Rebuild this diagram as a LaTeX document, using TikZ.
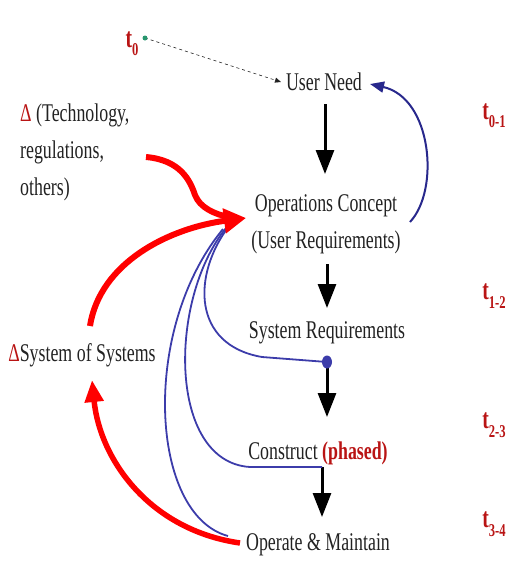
\documentclass[tikz,border=0pt]{standalone}
\usepackage{fontspec}
\setmainfont{Liberation Serif}[FakeStretch=0.7]
\usetikzlibrary{arrows.meta}
\definecolor{ink}{RGB}{34,34,34}
\definecolor{tred}{RGB}{185,20,20}
\definecolor{navy}{RGB}{40,40,140}
\definecolor{bblue}{RGB}{60,60,170}
\definecolor{dgreen}{RGB}{40,150,110}
\tikzset{
  lbl/.style={text=ink, font=\fontsize{25.5}{37}\selectfont, inner sep=0pt},
  tlbl/.style={text=tred, font=\fontsize{28}{30}\selectfont\bfseries, inner sep=0pt},
  blk/.style={draw=black, line width=3pt, -{Triangle[length=24pt,width=18pt]}},
  redarr/.style={draw=red, line width=6pt, -{Triangle[length=22pt,width=24pt]}},
  redarrB/.style={draw=red, line width=5.5pt, -{Triangle[length=22pt,width=18pt]}},
  redline/.style={draw=red, line width=6pt},
  bluel/.style={draw=bblue, line width=1.8pt},
}
\newcommand{\tsub}[1]{t\raisebox{-0.3em}{\fontsize{18}{18}\selectfont #1}}
\begin{document}
\begin{tikzpicture}[x=1pt,y=-1pt]
\useasboundingbox (0,0) rectangle (512,563);
% time labels
\node[tlbl] (t0) at (132,44) {\tsub{0}};
\node[tlbl] (t01) at (494,116) {\tsub{0-1}};
\node[tlbl] (t12) at (494,296) {\tsub{1-2}};
\node[tlbl] (t23) at (494,425) {\tsub{2-3}};
\node[tlbl] (t34) at (494,524) {\tsub{3-4}};
\coordinate (dot) at (145,38);
% main nodes
\node[lbl] (un) at (324,82) {User Need};
\node[lbl, align=center] (oc) at (326,224) {Operations Concept\\(User Requirements)};
\node[lbl] (sr) at (327,333) {System Requirements};
\node[lbl] (co) at (318,453) {Construct \textcolor{tred}{\bfseries (phased)}};
\node[lbl] (om) at (318,545) {Operate \& Maintain};
\node[lbl, align=left, anchor=north west] (tech) at (20,104) {\textcolor{tred}{Δ} (Technology,\\regulations,\\others)};
\node[lbl] (sos) at (82,355) {\textcolor{tred}{Δ}System of Systems};
% helper coordinates
\coordinate (unL) at (281,82);
\coordinate (unR) at (370,84);
\coordinate (a1s) at (325,104);
\coordinate (a1e) at (325,174);
\coordinate (a2s) at (327,264);
\coordinate (a2e) at (327,308);
\coordinate (bdot) at (327,362);
\coordinate (a3e) at (327,417);
\coordinate (cj) at (322,467);
\coordinate (a4e) at (322,517);
\coordinate (ocL) at (246,218);
\coordinate (ocR) at (410,222);
\coordinate (techE) at (146,157);
\coordinate (sosT) at (90,326);
\coordinate (sosB) at (92,380);
\coordinate (omL) at (240,543);
% dashed t0 arrow
\draw[ink, line width=0.6pt, dashed, -{Triangle[length=6pt,width=5pt]}] (dot) -- (unL);
\fill[dgreen] (dot) circle (2.5pt);
% black flow arrows
\draw[blk] (a1s) -- (a1e);
\draw[blk] (a2s) -- (a2e);
\draw[blk] (bdot) -- (a3e);
\draw[blk] (cj) -- (a4e);
% blue feedback lines
\draw[bluel] (229,226) .. controls (192,275) and (192,345) .. (262,357) -- (bdot);
\draw[bluel] (226,228) .. controls (168,300) and (168,462) .. (250,467) -- (cj);
\draw[bluel] (223,229) .. controls (140,330) and (150,515) .. (228,536);
\fill[bblue] (bdot) ellipse (5pt and 6.5pt);
\draw[navy, line width=2pt, -{Triangle[length=14pt,width=11pt]}] (ocR) .. controls (440,190) and (432,98) .. (unR);
% red arrows
\draw[redline] (techE) .. controls (180,160) and (190,180) .. (195,195) .. controls (200,208) and (215,214) .. (228,217);
\draw[redarr] (sosT) .. controls (100,262) and (170,228) .. (ocL);
\draw[redarrB] (omL) .. controls (150,530) and (100,460) .. (sosB);
\end{tikzpicture}
\end{document}
